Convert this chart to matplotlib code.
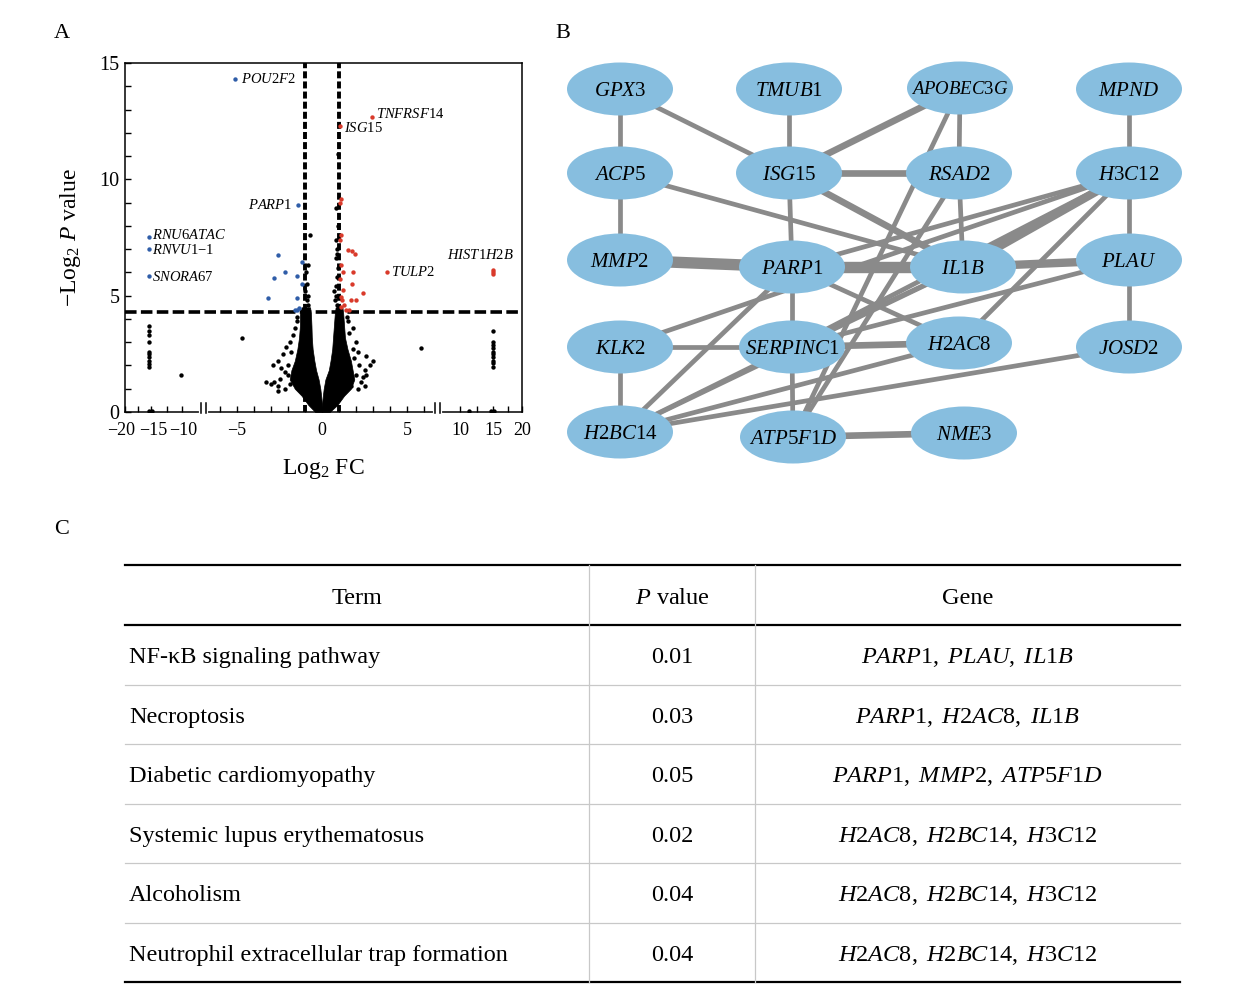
import re
import numpy as np
import matplotlib
matplotlib.use("Agg")
import matplotlib.pyplot as plt
from matplotlib.patches import Ellipse
from matplotlib.ticker import FixedLocator
import matplotlib.transforms as mtransforms

plt.rcParams['font.family'] = ['Liberation Serif', 'DejaVu Serif']
plt.rcParams['mathtext.fontset'] = 'custom'
plt.rcParams['mathtext.rm'] = 'Liberation Serif'
plt.rcParams['mathtext.it'] = 'Liberation Serif:italic'
plt.rcParams['mathtext.bf'] = 'Liberation Serif:bold'
plt.rcParams['axes.unicode_minus'] = True

# ---- panel A data (log2 FC, -log2 P) ----
cloud_y = [0.0, 0.3, 0.7, 1.0, 1.4, 1.8, 2.2, 2.7, 3.2, 3.7, 4.2, 4.5]
cloud_left_out = [-0.4, -0.8, -1.2, -1.6, -1.9, -1.8, -1.6, -1.45, -1.35, -1.3, -1.3, -1.2]
cloud_left_in = [0.0, 0.0, -0.05, -0.1, -0.2, -0.35, -0.45, -0.55, -0.6, -0.62, -0.65, -0.7]
cloud_right_in = [0.0, 0.0, 0.05, 0.1, 0.2, 0.4, 0.5, 0.6, 0.65, 0.7, 0.75, 0.8]
cloud_right_out = [0.45, 0.9, 1.3, 1.7, 1.9, 1.8, 1.7, 1.5, 1.35, 1.3, 1.25, 1.2]

ns_x = [-2.8, -2.5, -2.6, -2.9, -2.6, -2.4, -2.2, -2.0, -2.3, -2.1, -1.9, -1.8, -2.6, -2.2, -1.9,
        -3.3, -3.0, -2.0, -1.7, -1.6, -1.5, -1.45,
        2.6, 2.8, 3.0, 2.5, 2.4, 2.3, 2.1, 2.0, 2.2, 1.9, 2.0, 1.8, 2.6, 2.5, 1.6, 1.8, 2.1, 1.7,
        1.5, 1.45,
        -0.8, -0.85, -0.9, -0.95, -0.8, -0.7, -0.9, -1.0,
        0.9, 0.8, 0.85, 0.9, 0.95, 0.8, 0.9, 0.85, 0.95, 0.85, 0.95, 0.7, 0.75, 0.9,
        -15.3, -15.3, -15.3, -15.3, -15.3, -15.3, -15.3, -15.3, -15.3, -15.3,
        15.0, 15.0, 15.0, 15.0, 15.0, 15.0, 15.0, 15.0, 15.0, 15.0,
        -4.7, -10.2, 5.8, -15.3, -14.8, 11.4, 14.7, 15.2]
ns_y = [1.3, 1.4, 0.9, 2.0, 2.2, 1.9, 1.7, 1.6, 2.5, 2.8, 3.0, 2.6, 1.1, 1.0, 1.2,
        1.3, 1.2, 2.0, 3.3, 3.6, 3.9, 4.1,
        2.4, 2.0, 2.2, 1.8, 1.5, 1.3, 1.0, 1.6, 2.0, 2.3, 3.0, 2.7, 1.6, 1.1, 3.4, 3.6, 2.6, 1.1,
        3.9, 4.1,
        4.6, 5.0, 5.5, 6.0, 6.3, 7.6, 4.8, 5.2,
        4.6, 5.0, 5.4, 5.8, 6.2, 6.6, 7.0, 7.4, 8.0, 8.75, 11.1, 5.2, 4.8, 6.8,
        3.7, 3.5, 3.3, 3.0, 2.6, 2.5, 2.35, 2.2, 2.05, 1.95,
        3.5, 3.0, 2.9, 2.75, 2.6, 2.5, 2.35, 2.2, 2.1, 1.95,
        3.2, 1.6, 2.75, 0.05, 0.05, 0.05, 0.05, 0.05]

down_x = [-5.1, -1.4, -15.3, -15.3, -15.3, -2.6, -2.2, -2.8, -1.5, -1.2, -1.2, -3.2, -1.5, -1.6, -1.45, -1.35]
down_y = [14.3, 8.9, 7.5, 7.0, 5.85, 6.75, 6.0, 5.75, 5.85, 6.45, 5.5, 4.9, 4.9, 4.4, 4.4, 4.45]

up_x = [2.95, 1.05, 3.8, 15.0, 15.0, 15.0, 1.1, 1.05, 1.1, 1.05, 1.5, 1.75, 1.95, 1.1, 1.25, 1.8,
        1.05, 1.75, 1.25, 2.4, 1.1, 1.2, 1.7, 2.0, 1.4, 1.6, 1.1, 1.3]
up_y = [12.7, 12.3, 6.0, 6.1, 5.95, 6.0, 9.15, 9.0, 7.6, 7.4, 6.95, 6.9, 6.8, 6.3, 6.0, 6.0,
        5.7, 5.5, 5.25, 5.1, 4.95, 4.8, 4.8, 4.8, 4.4, 4.4, 4.5, 4.6]

label_genes = ['POU2F2', 'TNFRSF14', 'ISG15', 'PARP1', 'RNU6ATAC', 'RNVU1-1', 'SNORA67', 'TULP2', 'HIST1H2B']
label_x = [-5.1, 2.95, 1.05, -1.4, -15.3, -15.3, -15.3, 3.8, 15.0]
label_y = [14.3, 12.7, 12.3, 8.9, 7.5, 7.0, 5.85, 6.0, 6.1]
label_off = {'POU2F2': (4, 0, 'left'), 'TNFRSF14': (3, 2, 'left'), 'ISG15': (3, -1.5, 'left'),
             'PARP1': (-4, 0, 'right'), 'RNU6ATAC': (2, 1.5, 'left'), 'RNVU1-1': (2, -0.5, 'left'),
             'SNORA67': (2, -0.5, 'left'), 'TULP2': (3.5, 0, 'left'), 'HIST1H2B': (-9, 10.5, 'center')}

p_cut = 4.3
fc_cut = 1

# ---- panel B data ----
genes = ['GPX3', 'TMUB1', 'APOBEC3G', 'MPND', 'ACP5', 'ISG15', 'RSAD2', 'H3C12',
         'MMP2', 'PARP1', 'IL1B', 'PLAU', 'KLK2', 'SERPINC1', 'H2AC8', 'JOSD2',
         'H2BC14', 'ATP5F1D', 'NME3']
node_px = [620, 789, 960, 1129, 620, 789, 959, 1129, 620, 792, 963, 1129,
           620, 792, 959, 1129, 620, 793, 964]
node_py = [89, 89, 88, 89, 173, 173, 173, 173, 260, 267, 267, 260,
           347, 347, 343, 347, 432, 437, 433]
links = [('GPX3', 'ACP5', 1), ('GPX3', 'ISG15', 1), ('TMUB1', 'ISG15', 1),
         ('APOBEC3G', 'ISG15', 2), ('APOBEC3G', 'RSAD2', 1), ('APOBEC3G', 'ATP5F1D', 1),
         ('RSAD2', 'ATP5F1D', 1), ('ISG15', 'RSAD2', 2), ('ISG15', 'PARP1', 1),
         ('ISG15', 'IL1B', 2), ('ACP5', 'MMP2', 1), ('ACP5', 'IL1B', 1),
         ('MPND', 'H3C12', 1), ('H3C12', 'PLAU', 1), ('H3C12', 'IL1B', 3),
         ('H3C12', 'PARP1', 1), ('H3C12', 'KLK2', 1), ('H3C12', 'SERPINC1', 1),
         ('H3C12', 'H2AC8', 1), ('RSAD2', 'IL1B', 1), ('MMP2', 'PARP1', 4),
         ('PARP1', 'IL1B', 4), ('IL1B', 'PLAU', 3), ('PARP1', 'SERPINC1', 1),
         ('PARP1', 'H2AC8', 1), ('PARP1', 'H2BC14', 1), ('KLK2', 'SERPINC1', 1),
         ('KLK2', 'H2BC14', 1), ('SERPINC1', 'H2AC8', 2), ('SERPINC1', 'ATP5F1D', 1),
         ('SERPINC1', 'IL1B', 1), ('SERPINC1', 'PLAU', 1), ('SERPINC1', 'H2BC14', 1),
         ('H2BC14', 'IL1B', 1), ('H2BC14', 'H2AC8', 1), ('H2BC14', 'JOSD2', 1),
         ('PLAU', 'JOSD2', 1), ('ATP5F1D', 'NME3', 2)]
link_lw = {1: 3.4, 2: 4.8, 3: 6.0, 4: 8.2}

# ---- panel C data ----
terms = ['NF-κB signaling pathway', 'Necroptosis', 'Diabetic cardiomyopathy',
         'Systemic lupus erythematosus', 'Alcoholism', 'Neutrophil extracellular trap formation']
pvals = ['0.01', '0.03', '0.05', '0.02', '0.04', '0.04']
term_genes = ['PARP1, PLAU, IL1B', 'PARP1, H2AC8, IL1B', 'PARP1, MMP2, ATP5F1D',
              'H2AC8, H2BC14, H3C12', 'H2AC8, H2BC14, H3C12', 'H2AC8, H2BC14, H3C12']


def gtex(name):
    # letters italic, digits and punctuation upright
    out = ''
    for p in re.findall(r'[A-Za-z]+|[^A-Za-z]+', name):
        if p.isalpha():
            out += r'\mathit{%s}' % p
        else:
            out += r'\mathrm{%s}' % p.replace(' ', r'\ ').replace('-', '{-}')
    return '$' + out + '$'


fig = plt.figure(figsize=(12.39, 9.97), dpi=100)
canvas = fig.add_axes([0, 0, 1, 1])
canvas.set_xlim(0, 1239)
canvas.set_ylim(997, 0)
canvas.axis('off')

# ---------------- A: volcano ----------------
ax = fig.add_axes([125/1239, 1-412/997, 397/1239, 349/997])
x_anchor = [-20, -15, -10, -7, 7, 10, 15, 20]
x_screen = [0, 26, 57, 78, 316, 335, 368, 397]
ax.set_xscale('function', functions=(lambda v: np.interp(v, x_anchor, x_screen),
                                     lambda v: np.interp(v, x_screen, x_anchor)))
ax.set_xlim(-20, 20)
ax.set_ylim(0, 15)

ax.axvline(-fc_cut, color='black', lw=2.8, dashes=(1.8, 0.8), zorder=1)
ax.axvline(fc_cut, color='black', lw=2.8, dashes=(1.8, 0.8), zorder=1)
ax.axhline(p_cut, color='black', lw=2.6, dashes=(3.2, 1.2), zorder=1)

ax.fill_betweenx(cloud_y, cloud_left_out, cloud_left_in, color='black', lw=0.5, zorder=2)
ax.fill_betweenx(cloud_y, cloud_right_in, cloud_right_out, color='black', lw=0.5, zorder=2)
ax.scatter(ns_x, ns_y, s=10, c='black', linewidths=0, zorder=3)
ax.scatter(down_x, down_y, s=10, c='#2F5DA8', linewidths=0, zorder=4)
ax.scatter(up_x, up_y, s=10, c='#D93A2B', linewidths=0, zorder=4)

for g, gx, gy in zip(label_genes, label_x, label_y):
    dx, dy, ha = label_off[g]
    ax.annotate(gtex(g), (gx, gy), xytext=(dx, dy), textcoords='offset points',
                ha=ha, va='center', fontsize=10.5, zorder=5)

xt = [-20, -15, -10, -5, 0, 5, 10, 15, 20]
ax.set_xticks(xt)
ax.set_xticklabels([str(v).replace('-', '\u2212') for v in xt])
ax.xaxis.set_minor_locator(FixedLocator([-17.5, -12.5, -6, -4, -3, -2, -1, 1, 2, 3, 4, 6, 12.5, 17.5]))
ax.set_yticks([0, 5, 10, 15])
ax.yaxis.set_minor_locator(FixedLocator(list(range(1, 15))))
ax.tick_params(which='both', direction='in', length=4, width=1)
ax.tick_params(axis='x', labelsize=13, pad=7)
ax.tick_params(axis='y', labelsize=14.5, pad=4)
for s in ax.spines.values():
    s.set_linewidth(1.1)
# crowded labels on the compressed left segment
nudge = {-20: -2.5, -15: 1.5, -10: 1}
for v, lab in zip(xt, ax.get_xticklabels()):
    if v in nudge:
        lab.set_transform(lab.get_transform() + mtransforms.ScaledTranslation(nudge[v]/72, 0, fig.dpi_scale_trans))

trans = mtransforms.blended_transform_factory(ax.transData, ax.transAxes)
for a, b in [(-7.3, -6.8), (6.65, 6.95)]:
    ax.plot([a, b], [0, 0], color='white', lw=3, transform=trans, clip_on=False, zorder=6)
    for c in (a, b):
        ax.plot([c, c], [-0.004, 0.026], color='black', lw=1.1, transform=trans, clip_on=False, zorder=7)

ax.set_xlabel(r'Log$_2$ FC', fontsize=17, labelpad=13)
ax.set_ylabel(r'$-$Log$_2$ $P$ value', fontsize=17, labelpad=12)

# ---------------- B: network ----------------
pos = {g: (x, y) for g, x, y in zip(genes, node_px, node_py)}
for a, b, w in links:
    canvas.plot([pos[a][0], pos[b][0]], [pos[a][1], pos[b][1]], color='#8A8A8A',
                lw=link_lw[w], solid_capstyle='butt', zorder=1)
label_fs = {'APOBEC3G': 13.5}
for g in genes:
    canvas.add_patch(Ellipse(pos[g], 106, 53, facecolor='#87BEDF', edgecolor='none', zorder=2))
    canvas.text(pos[g][0], pos[g][1] + 2, gtex(g), ha='center', va='center',
                fontsize=label_fs.get(g, 15), zorder=3)

# ---------------- C: table ----------------
tl, tr = 125, 1180
col1, col2 = 589, 755
top, head = 565, 625
row_h = 59.5
n = len(terms)
bottom = head + row_h * n
canvas.plot([tl, tr], [top, top], color='black', lw=1.6)
canvas.plot([tl, tr], [head, head], color='black', lw=1.6)
canvas.plot([tl, tr], [bottom, bottom], color='black', lw=1.6)
for i in range(1, n):
    yy = head + row_h * i
    canvas.plot([tl, tr], [yy, yy], color='#C8C8C8', lw=0.9)
for xx in (col1, col2):
    canvas.plot([xx, xx], [top, bottom], color='#C8C8C8', lw=0.9)

fs = 17.5
dy = 3
canvas.text((tl + col1) / 2, (top + head) / 2 + dy, 'Term', ha='center', va='center', fontsize=fs)
canvas.text((col1 + col2) / 2, (top + head) / 2 + dy, r'$P$ value', ha='center', va='center', fontsize=fs)
canvas.text((col2 + tr) / 2, (top + head) / 2 + dy, 'Gene', ha='center', va='center', fontsize=fs)
for i in range(n):
    yc = head + row_h * (i + 0.5) + dy
    canvas.text(tl + 4, yc, terms[i], ha='left', va='center', fontsize=fs)
    canvas.text((col1 + col2) / 2, yc, pvals[i], ha='center', va='center', fontsize=fs)
    canvas.text((col2 + tr) / 2, yc, gtex(term_genes[i]), ha='center', va='center', fontsize=fs)

fig.text(62/1239, 1-33/997, 'A', ha='center', va='center', fontsize=16)
fig.text(563/1239, 1-33/997, 'B', ha='center', va='center', fontsize=16)
fig.text(62/1239, 1-529/997, 'C', ha='center', va='center', fontsize=16)

fig.savefig('out.png', dpi=100)
